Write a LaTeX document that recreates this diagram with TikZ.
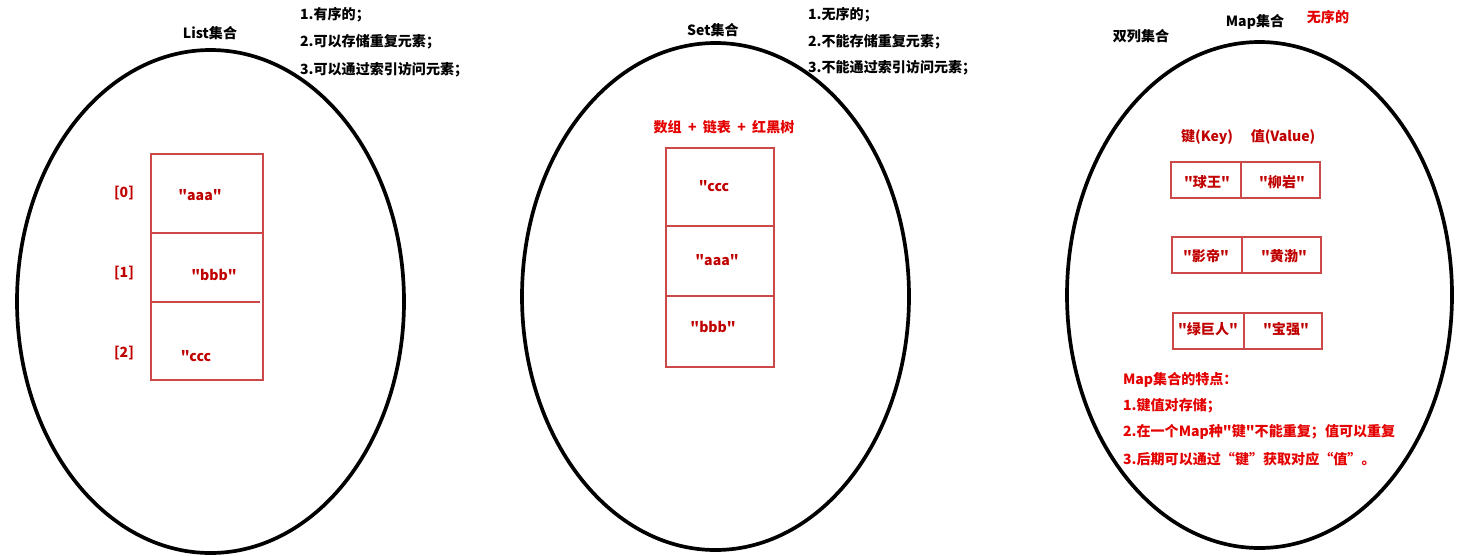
\documentclass[tikz,border=0pt]{standalone}
\usepackage{fontspec}
\setmainfont{Noto Sans CJK SC}[Ligatures=TeXOff]
\usetikzlibrary{positioning}

\definecolor{txtred}{RGB}{192,0,0}
\definecolor{hotred}{RGB}{228,0,0}
\definecolor{boxred}{RGB}{205,72,72}

\begin{document}
\begin{tikzpicture}[
    x=0.02cm, y=-0.02cm,
    font=\fontsize{8pt}{9pt}\selectfont\bfseries,
    oval/.style={line width=2.1pt, black},
    cell/.style={draw=boxred, line width=0.6pt},
    title/.style={text=black, inner sep=1pt},
    rule/.style={text=black, anchor=west, inner sep=1pt},
    item/.style={text=txtred, inner sep=1pt},
    hint/.style={text=hotred, anchor=west, inner sep=1pt}
]
\useasboundingbox (0,0) rectangle (1463,555);
\clip (0,0) rectangle (1463,555);

% --- List集合 ---
\draw[oval] (210.5,301.5) ellipse [x radius=193.5, y radius=251.5];
\node[title] (list_title) at (210,33) {List集合};
\node[rule] (list_r1) at (298,15) {1.有序的；};
\node[rule] (list_r2) at (298,42) {2.可以存储重复元素；};
\node[rule] (list_r3) at (298,70) {3.可以通过索引访问元素；};

\draw[cell] (151,154) rectangle (263,380);
\draw[cell] (151,233) -- (263,233);
\draw[cell] (151,302) -- (260,302);
\node[item] (idx0) at (124,193) {[0]};
\node[item] (idx1) at (124,273) {[1]};
\node[item] (idx2) at (124,353) {[2]};
\node[item] (list_a) at (200,195) {"aaa"};
\node[item] (list_b) at (214,275) {"bbb"};
\node[item] (list_c) at (196,356) {"ccc};

% --- Set集合 ---
\draw[oval] (715.5,296.5) ellipse [x radius=193.5, y radius=253.5];
\node[title] (set_title) at (713,30) {Set集合};
\node[rule] (set_r1) at (806,15) {1.无序的；};
\node[rule] (set_r2) at (806,42) {2.不能存储重复元素；};
\node[rule] (set_r3) at (806,68) {3.不能通过索引访问元素；};
\node[text=hotred] (set_impl) at (724,127) {数组\hspace{0.45em}+\hspace{0.45em}链表\hspace{0.45em}+\hspace{0.45em}红黑树};

\draw[cell] (666,148) rectangle (774,367);
\draw[cell] (666,226) -- (774,226);
\draw[cell] (666,296) -- (774,296);
\node[item] (set_c) at (714,186) {"ccc};
\node[item] (set_a) at (717,260) {"aaa"};
\node[item] (set_b) at (713,327) {"bbb"};

% --- Map集合 ---
\draw[oval] (1259.5,295) ellipse [x radius=192.5, y radius=253];
\node[title] (map_kind) at (1141,36) {双列集合};
\node[title] (map_title) at (1255,22) {Map集合};
\node[text=hotred] (map_hint) at (1328,17) {无序的};
\node[item] (key_head) at (1207,137) {键(Key)};
\node[item] (val_head) at (1283,137) {值(Value)};

\draw[cell] (1171,162) rectangle (1320,198);
\draw[cell] (1241,162) -- (1241,198);
\draw[cell] (1172,237) rectangle (1321,273);
\draw[cell] (1242,237) -- (1242,273);
\draw[cell] (1173,313) rectangle (1322,349);
\draw[cell] (1244,313) -- (1244,349);
\node[item] (k1) at (1207,182) {"球王"};
\node[item] (v1) at (1282,182) {"柳岩"};
\node[item] (k2) at (1206,256) {"影帝"};
\node[item] (v2) at (1284,256) {"黄渤"};
\node[item] (k3) at (1208,329) {"绿巨人"};
\node[item] (v3) at (1286,329) {"宝强"};

\node[hint] (map_f0) at (1121,380) {Map集合的特点：};
\node[hint] (map_f1) at (1121,406) {1.键值对存储；};
\node[hint] (map_f2) at (1121,432) {2.在一个Map种"键"不能重复；值可以重复};
\node[hint] (map_f3) at (1121,459) {3.后期可以通过“键”获取对应“值”。};

\end{tikzpicture}
\end{document}
